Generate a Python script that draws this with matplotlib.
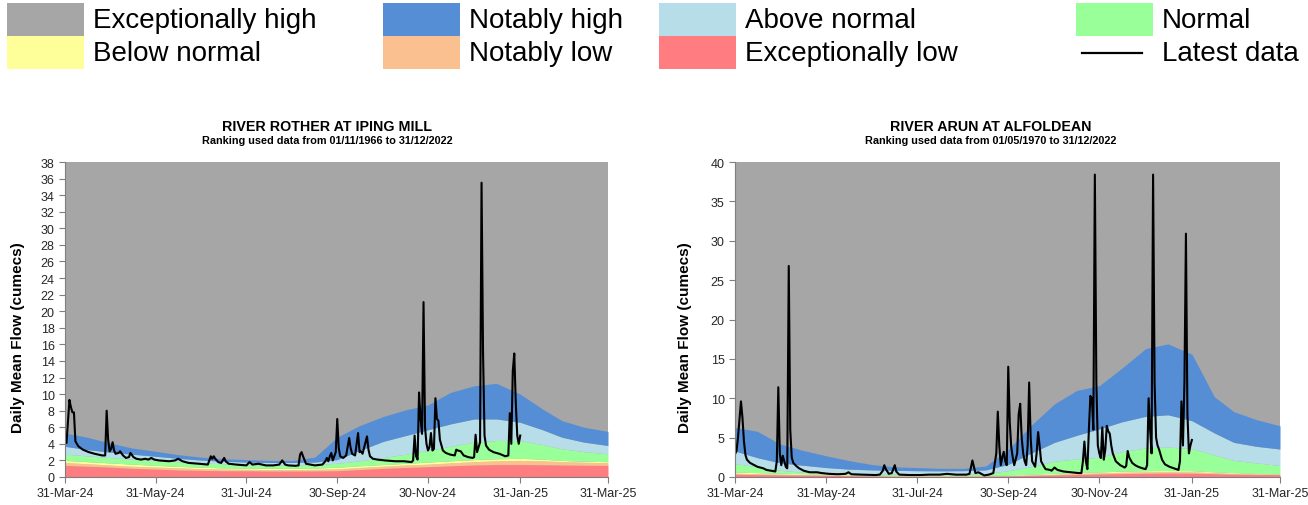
import datetime as dt

import matplotlib
matplotlib.use("Agg")
import matplotlib.pyplot as plt
import matplotlib.dates as mdates
from matplotlib.patches import Rectangle

plt.rcParams['font.family'] = ['Liberation Sans', 'DejaVu Sans']

# ---- band boundaries (upper limit of each band, cumecs) ----
BAND_DATES = ["2024-03-31", "2024-04-15", "2024-04-30", "2024-05-15", "2024-05-31",
              "2024-06-15", "2024-06-30", "2024-07-15", "2024-07-31", "2024-08-15",
              "2024-08-31", "2024-09-15", "2024-09-30", "2024-10-15", "2024-10-31",
              "2024-11-15", "2024-11-30", "2024-12-15", "2024-12-31", "2025-01-15",
              "2025-01-31", "2025-02-15", "2025-02-28", "2025-03-15", "2025-03-31"]

rother_exc_low = [1.40, 1.30, 1.20, 1.05, 0.95, 0.85, 0.80, 0.75, 0.75, 0.72, 0.72, 0.73,
                  0.76, 0.90, 1.05, 1.15, 1.25, 1.35, 1.45, 1.50, 1.50, 1.48, 1.45, 1.42, 1.40]
rother_not_low = [1.75, 1.60, 1.45, 1.30, 1.20, 1.10, 1.00, 0.95, 0.92, 0.90, 0.90, 0.92,
                  0.98, 1.15, 1.30, 1.45, 1.55, 1.70, 1.85, 1.95, 2.00, 1.95, 1.85, 1.78, 1.72]
rother_below = [2.00, 1.85, 1.70, 1.55, 1.40, 1.28, 1.18, 1.10, 1.08, 1.05, 1.05, 1.08,
                1.18, 1.35, 1.50, 1.65, 1.80, 1.95, 2.10, 2.20, 2.25, 2.15, 2.00, 1.90, 1.85]
rother_normal = [2.75, 2.55, 2.35, 2.15, 2.00, 1.85, 1.70, 1.60, 1.50, 1.45, 1.45, 1.50,
                 1.65, 1.95, 2.35, 2.75, 3.20, 3.70, 4.20, 4.40, 4.40, 3.90, 3.40, 3.05, 2.80]
rother_above = [3.70, 3.30, 3.00, 2.75, 2.50, 2.25, 2.05, 1.90, 1.80, 1.75, 1.75, 1.80,
                2.10, 3.20, 4.30, 5.00, 5.70, 6.40, 7.00, 7.00, 6.60, 5.70, 4.80, 4.20, 3.80]
rother_not_high = [5.30, 4.80, 4.10, 3.50, 3.10, 2.70, 2.40, 2.20, 2.10, 2.00, 2.00, 2.40,
                   4.80, 6.20, 7.30, 8.10, 8.70, 10.2, 11.0, 11.3, 10.0, 8.20, 6.80, 6.00, 5.50]

arun_exc_low = [0.35, 0.30, 0.27, 0.24, 0.22, 0.18, 0.15, 0.12, 0.11, 0.11, 0.11, 0.12,
                0.14, 0.20, 0.26, 0.32, 0.38, 0.43, 0.47, 0.50, 0.48, 0.42, 0.36, 0.32, 0.30]
arun_not_low = [0.48, 0.42, 0.37, 0.32, 0.28, 0.23, 0.19, 0.16, 0.14, 0.14, 0.15, 0.17,
                0.19, 0.27, 0.35, 0.45, 0.52, 0.60, 0.65, 0.68, 0.65, 0.55, 0.45, 0.40, 0.36]
arun_below = [0.63, 0.55, 0.48, 0.42, 0.36, 0.30, 0.25, 0.22, 0.20, 0.20, 0.21, 0.23,
              0.26, 0.36, 0.46, 0.56, 0.64, 0.74, 0.80, 0.82, 0.80, 0.65, 0.55, 0.45, 0.40]
arun_normal = [1.70, 1.30, 0.85, 0.62, 0.50, 0.45, 0.40, 0.38, 0.36, 0.35, 0.38, 0.45,
               0.80, 1.30, 2.00, 2.30, 2.50, 3.20, 3.70, 3.80, 3.60, 2.80, 2.10, 1.80, 1.45]
arun_above = [3.30, 2.45, 1.80, 1.50, 1.20, 1.00, 0.90, 0.85, 0.80, 0.78, 0.80, 0.90,
              1.60, 3.00, 4.40, 5.30, 6.10, 7.00, 7.70, 7.90, 7.15, 5.60, 4.40, 3.90, 3.55]
arun_not_high = [6.30, 5.80, 4.20, 3.40, 2.70, 2.10, 1.60, 1.30, 1.20, 1.10, 1.10, 1.40,
                 3.50, 6.50, 9.30, 11.0, 11.6, 13.8, 16.3, 16.9, 15.6, 10.2, 8.30, 7.30, 6.50]

# ---- latest data (days after 31-Mar-24, daily mean flow) ----
rother_days = [0, 1, 3, 4, 5, 6, 7, 9, 12, 16, 20, 25, 27, 28, 29, 30, 31, 32, 33, 34,
               36, 37, 39, 41, 43, 44, 46, 48, 51, 54, 56, 58, 60, 63, 70, 74, 76, 79, 83, 90,
               96, 97, 98, 99, 100, 101, 103, 105, 107, 108, 110, 115, 122, 124, 126, 130, 135, 140, 144, 146,
               148, 150, 155, 157, 158, 159, 160, 162, 165, 168, 173, 175, 176, 177, 178, 179, 180, 182, 183, 184,
               185, 187, 189, 191, 192, 193, 195, 197, 198, 199, 200, 201, 203, 204, 205, 207, 210, 215, 222, 228,
               233, 234, 235, 236, 237, 238, 239, 240, 241, 242, 243, 244, 245, 246, 247, 248, 249, 250, 251, 252,
               254, 256, 259, 262, 263, 264, 266, 268, 271, 274, 275, 276, 277, 279, 280, 281, 282, 283, 285, 288,
               292, 296, 298, 299, 300, 301, 302, 303, 304, 305, 306]
rother_flow = [4.3, 4.1, 9.3, 8.4, 7.8, 7.8, 4.3, 3.7, 3.3, 3.0, 2.8, 2.6, 2.6, 8.0, 4.5, 3.1, 3.4, 4.2, 3.2, 2.8,
               2.9, 3.1, 2.6, 2.3, 2.4, 2.9, 2.4, 2.2, 2.1, 2.2, 2.1, 2.3, 2.1, 2.0, 1.9, 2.0, 2.2, 1.9, 1.7, 1.6,
               1.5, 2.0, 2.5, 2.2, 2.5, 2.2, 1.8, 1.7, 2.3, 1.9, 1.6, 1.5, 1.4, 1.8, 1.5, 1.6, 1.4, 1.4, 1.5, 2.0,
               1.5, 1.4, 1.35, 1.4, 2.7, 3.0, 2.5, 1.6, 1.5, 1.4, 1.5, 1.9, 2.3, 1.9, 2.5, 2.9, 2.0, 3.0, 7.0, 3.5,
               2.5, 2.3, 2.6, 4.7, 3.5, 2.8, 2.6, 5.3, 3.0, 3.1, 2.8, 3.5, 4.9, 3.3, 2.5, 2.2, 2.1, 2.0, 1.9, 1.9,
               1.8, 2.0, 5.0, 2.5, 2.1, 10.2, 7.0, 5.2, 21.1, 6.0, 4.0, 3.2, 3.6, 5.3, 3.2, 3.4, 9.5, 7.0, 6.8, 4.5,
               3.2, 2.9, 2.7, 2.6, 3.3, 3.2, 3.1, 2.6, 2.4, 2.3, 2.4, 5.1, 3.0, 4.2, 35.5, 15.0, 5.0, 3.8, 3.3, 3.0,
               2.8, 2.5, 2.6, 7.7, 4.0, 12.8, 14.9, 9.0, 5.0, 4.0, 5.0]

arun_days = [0, 1, 2, 4, 5, 6, 7, 8, 10, 13, 15, 17, 19, 21, 24, 27, 28, 29, 30, 31,
             32, 33, 34, 35, 36, 37, 38, 39, 41, 43, 46, 50, 55, 58, 63, 69, 74, 76, 78, 85,
             94, 97, 99, 100, 101, 103, 105, 106, 107, 108, 110, 117, 124, 130, 137, 142, 148, 155, 157, 158,
             159, 160, 161, 163, 165, 167, 170, 173, 175, 176, 177, 178, 179, 180, 181, 182, 183, 184, 185, 186,
             187, 189, 190, 191, 192, 193, 194, 195, 196, 197, 198, 199, 201, 202, 203, 204, 205, 207, 208, 211,
             212, 214, 216, 220, 225, 230, 232, 233, 234, 235, 236, 237, 238, 239, 240, 241, 242, 243, 244, 245,
             246, 247, 248, 249, 250, 251, 252, 253, 255, 258, 261, 262, 263, 264, 266, 268, 270, 273, 275, 276,
             277, 278, 279, 280, 281, 282, 283, 284, 286, 288, 291, 294, 297, 298, 299, 300, 301, 302, 303, 304,
             305, 306]
arun_flow = [2.9, 3.3, 5.0, 9.6, 7.5, 4.5, 2.8, 2.2, 1.8, 1.5, 1.3, 1.2, 1.1, 0.9, 0.8, 0.7, 2.0, 11.4, 3.0, 1.5,
             2.7, 2.0, 1.3, 1.1, 26.8, 6.0, 2.5, 1.8, 1.4, 1.1, 0.8, 0.6, 0.6, 0.5, 0.4, 0.35, 0.4, 0.6, 0.35, 0.3,
             0.25, 0.3, 0.8, 1.5, 1.0, 0.4, 0.5, 1.0, 1.5, 0.7, 0.3, 0.25, 0.25, 0.3, 0.3, 0.4, 0.3, 0.3, 0.4, 1.2,
             2.1, 1.3, 0.5, 0.6, 0.4, 0.2, 0.3, 0.5, 3.0, 8.3, 4.0, 1.5, 2.5, 3.2, 2.0, 1.5, 14.0, 7.0, 3.8, 2.5,
             1.5, 3.0, 8.0, 9.3, 5.0, 3.0, 2.0, 1.5, 4.0, 12.0, 5.0, 2.0, 1.3, 3.0, 5.7, 4.0, 2.0, 1.3, 1.0, 0.9,
             0.8, 1.2, 0.9, 0.7, 0.6, 0.5, 0.5, 2.0, 4.5, 2.0, 1.0, 6.0, 10.3, 10.0, 6.0, 38.4, 12.0, 4.0, 3.0, 2.4,
             6.3, 2.2, 3.5, 6.5, 5.8, 5.5, 4.0, 3.0, 2.0, 1.5, 1.2, 1.4, 3.3, 2.5, 1.8, 1.5, 1.3, 1.1, 1.0, 1.5,
             10.0, 6.0, 3.0, 38.4, 12.0, 5.0, 4.0, 3.5, 2.2, 1.6, 1.3, 1.1, 0.9, 2.0, 9.6, 4.0, 12.0, 30.9, 8.0, 3.0,
             4.0, 4.7]

TICK_DATES = ["2024-03-31", "2024-05-31", "2024-07-31", "2024-09-30",
              "2024-11-30", "2025-01-31", "2025-03-31"]

BAND_LABELS = ["Exceptionally low", "Notably low", "Below normal", "Normal",
               "Above normal", "Notably high", "Exceptionally high"]
BAND_COLORS = ["#FF7C80", "#FAC090", "#FFFF99", "#99FF99",
               "#B7DEE8", "#558ED5", "#A6A6A6"]

START = dt.datetime(2024, 3, 31)


def to_dates(strings):
    return [dt.datetime.strptime(s, "%Y-%m-%d") for s in strings]


def draw_river(ax, bands, days, flow, ymax, ystep):
    bdates = to_dates(BAND_DATES)
    ax.set_facecolor(BAND_COLORS[-1])
    lower = [0.0] * len(bdates)
    for upper, color in zip(bands, BAND_COLORS[:-1]):
        ax.fill_between(bdates, lower, upper, color=color, lw=0)
        lower = upper
    ax.plot([START + dt.timedelta(days=d) for d in days], flow, color="black", lw=1.5)

    ax.set_xlim(START, dt.datetime(2025, 3, 31))
    ax.set_ylim(0, ymax)
    ax.set_yticks(range(0, ymax + 1, ystep))
    ax.set_xticks(to_dates(TICK_DATES))
    ax.xaxis.set_major_formatter(mdates.DateFormatter("%d-%b-%y"))
    for s in ("top", "right"):
        ax.spines[s].set_visible(False)
    for s in ("left", "bottom"):
        ax.spines[s].set_color("#7F7F7F")
        ax.spines[s].set_linewidth(0.8)
    ax.tick_params(axis="both", direction="out", length=4, width=0.8,
                   color="#7F7F7F", labelsize=9, labelcolor="#262626")


fig = plt.figure(figsize=(13.08, 5.06), dpi=100)

# legend drawn in pixel coordinates on an overlay
leg = fig.add_axes([0, 0, 1, 1])
leg.set_xlim(0, 1308)
leg.set_ylim(506, 0)
leg.axis("off")
legend_rows = [
    [("Exceptionally high", 6), ("Notably high", 5), ("Above normal", 4), ("Normal", 3)],
    [("Below normal", 2), ("Notably low", 1), ("Exceptionally low", 0), ("Latest data", None)],
]
col_x = [7, 383, 659, 1076]
row_top = [4, 37]
for r, row in enumerate(legend_rows):
    for c, (label, idx) in enumerate(row):
        x0, y0 = col_x[c], row_top[r]
        if idx is None:
            leg.plot([x0 + 6, x0 + 66], [y0 + 17, y0 + 17], color="black", lw=1.6)
        else:
            leg.add_patch(Rectangle((x0, y0), 77, 33, color=BAND_COLORS[idx], lw=0))
        leg.text(x0 + 86, y0 + 17, label, fontsize=20, va="center", ha="left")

ax1 = fig.add_axes([65 / 1308, 28 / 506, 543 / 1308, 315 / 506])
draw_river(ax1, [rother_exc_low, rother_not_low, rother_below, rother_normal,
                 rother_above, rother_not_high], rother_days, rother_flow, 38, 2)

ax2 = fig.add_axes([735 / 1308, 28 / 506, 545 / 1308, 315 / 506])
draw_river(ax2, [arun_exc_low, arun_not_low, arun_below, arun_normal,
                 arun_above, arun_not_high], arun_days, arun_flow, 40, 5)

titles = [(327, "RIVER ROTHER AT IPING MILL", "Ranking used data from 01/11/1966 to 31/12/2022"),
          (991, "RIVER ARUN AT ALFOLDEAN", "Ranking used data from 01/05/1970 to 31/12/2022")]
for xc, title, sub in titles:
    fig.text(xc / 1308, 1 - 127 / 506, title, ha="center", va="center",
             fontsize=10.3, weight="bold")
    fig.text(xc / 1308, 1 - 141 / 506, sub, ha="center", va="center",
             fontsize=7.8, weight="bold")

for xl in (18, 685):
    fig.text(xl / 1308, 1 - 338 / 506, "Daily Mean Flow (cumecs)", rotation=90,
             ha="center", va="center", fontsize=11, weight="bold")

fig.savefig("out.png", dpi=100)
